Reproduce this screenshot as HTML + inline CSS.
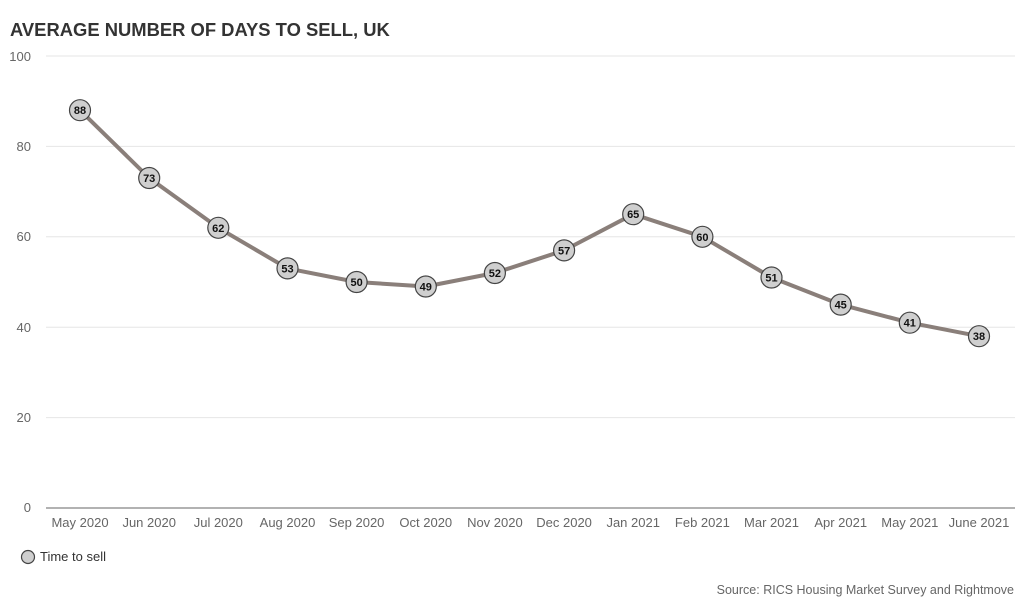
<!DOCTYPE html>
<html><head><meta charset="utf-8"><style>
body{margin:0;background:#fff;width:1024px;height:614px;overflow:hidden}
svg{display:block;font-family:"Liberation Sans",Arial,sans-serif}
</style></head><body>
<svg width="1024" height="614" viewBox="0 0 1024 614">
<text x="10" y="36" font-size="18.4" font-weight="bold" fill="#333">AVERAGE NUMBER OF DAYS TO SELL, UK</text>
<g stroke="#e6e6e6" stroke-width="1">
<line x1="46" x2="1015" y1="56" y2="56"/>
<line x1="46" x2="1015" y1="146.4" y2="146.4"/>
<line x1="46" x2="1015" y1="236.8" y2="236.8"/>
<line x1="46" x2="1015" y1="327.2" y2="327.2"/>
<line x1="46" x2="1015" y1="417.6" y2="417.6"/>
</g>
<line x1="46" x2="1015" y1="508" y2="508" stroke="#999" stroke-width="1.5"/>
<g font-size="13" fill="#666" text-anchor="end">
<text x="31" y="61">100</text><text x="31" y="151">80</text><text x="31" y="241">60</text>
<text x="31" y="332">40</text><text x="31" y="422">20</text><text x="31" y="512">0</text>
</g>
<g font-size="13" fill="#666" text-anchor="middle">
<text x="80" y="527">May 2020</text><text x="149.2" y="527">Jun 2020</text><text x="218.3" y="527">Jul 2020</text>
<text x="287.5" y="527">Aug 2020</text><text x="356.6" y="527">Sep 2020</text><text x="425.8" y="527">Oct 2020</text>
<text x="494.9" y="527">Nov 2020</text><text x="564.1" y="527">Dec 2020</text><text x="633.2" y="527">Jan 2021</text>
<text x="702.4" y="527">Feb 2021</text><text x="771.5" y="527">Mar 2021</text><text x="840.7" y="527">Apr 2021</text>
<text x="909.8" y="527">May 2021</text><text x="979" y="527">June 2021</text>
</g>
<polyline fill="none" stroke="#8a7f7a" stroke-width="4" stroke-linejoin="round" points="80,110.2 149.2,178 218.3,227.8 287.5,268.4 356.6,282 425.8,286.5 494.9,273 564.1,250.4 633.2,214.2 702.4,236.8 771.5,277.5 840.7,304.6 909.8,322.7 979,336.2"/>
<g fill="#cfcfcf" stroke="#444" stroke-width="1.2">
<circle cx="80" cy="110.2" r="10.5"/><circle cx="149.2" cy="178" r="10.5"/><circle cx="218.3" cy="227.8" r="10.5"/>
<circle cx="287.5" cy="268.4" r="10.5"/><circle cx="356.6" cy="282" r="10.5"/><circle cx="425.8" cy="286.5" r="10.5"/>
<circle cx="494.9" cy="273" r="10.5"/><circle cx="564.1" cy="250.4" r="10.5"/><circle cx="633.2" cy="214.2" r="10.5"/>
<circle cx="702.4" cy="236.8" r="10.5"/><circle cx="771.5" cy="277.5" r="10.5"/><circle cx="840.7" cy="304.6" r="10.5"/>
<circle cx="909.8" cy="322.7" r="10.5"/><circle cx="979" cy="336.2" r="10.5"/>
</g>
<g font-size="11" font-weight="bold" fill="#111" text-anchor="middle">
<text x="80" y="114.2">88</text><text x="149.2" y="182">73</text><text x="218.3" y="231.8">62</text>
<text x="287.5" y="272.4">53</text><text x="356.6" y="286">50</text><text x="425.8" y="290.5">49</text>
<text x="494.9" y="277">52</text><text x="564.1" y="254.4">57</text><text x="633.2" y="218.2">65</text>
<text x="702.4" y="240.8">60</text><text x="771.5" y="281.5">51</text><text x="840.7" y="308.6">45</text>
<text x="909.8" y="326.7">41</text><text x="979" y="340.2">38</text>
</g>
<circle cx="28" cy="557" r="6.5" fill="#cfcfcf" stroke="#444" stroke-width="1.2"/>
<text x="40" y="561" font-size="13" fill="#333">Time to sell</text>
<text x="1014" y="594" font-size="12.5" fill="#666" text-anchor="end">Source: RICS Housing Market Survey and Rightmove</text>
</svg>
</body></html>
